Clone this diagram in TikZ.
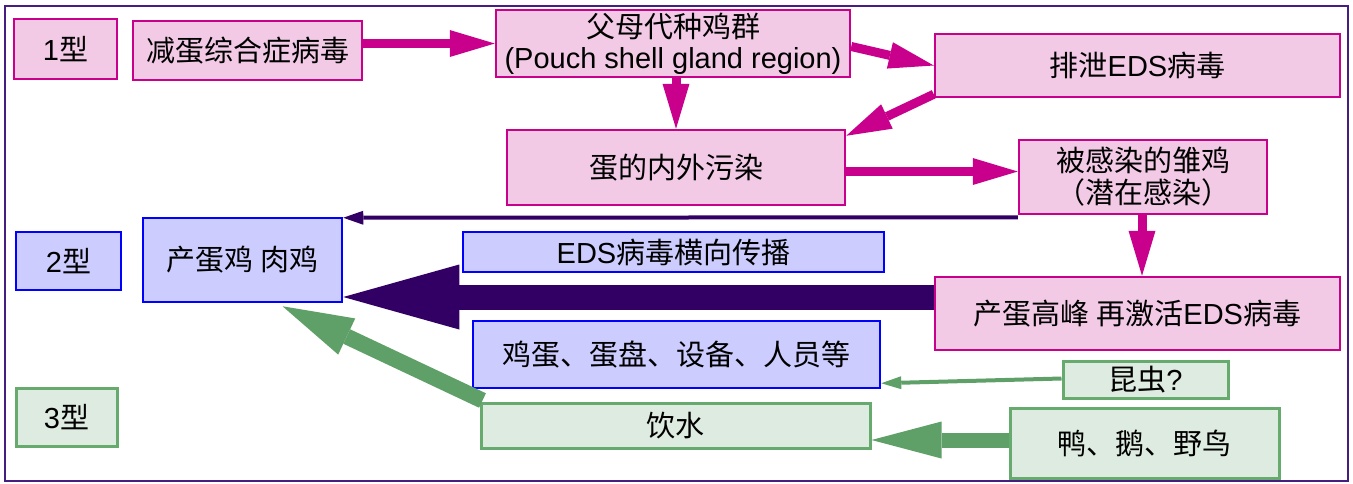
\documentclass[tikz,border=0pt]{standalone}
\usepackage{fontspec}
\setmainfont{Liberation Sans}
\newfontfamily\cjk{Noto Sans CJK SC}
\usetikzlibrary{arrows.meta}
\definecolor{mag}{RGB}{200,0,140}
\definecolor{pinkfill}{RGB}{242,202,230}
\definecolor{bluebd}{RGB}{0,0,255}
\definecolor{bluefill}{RGB}{204,204,255}
\definecolor{greenbd}{RGB}{102,170,110}
\definecolor{greenfill}{RGB}{222,235,224}
\definecolor{greenarr}{RGB}{95,160,104}
\definecolor{darkpurple}{RGB}{50,0,100}
\definecolor{framecol}{RGB}{70,30,130}
\begin{document}
\begin{tikzpicture}[x=1pt,y=-1pt,
  font=\fontsize{29}{31}\selectfont,
  box/.style={line width=2.5pt, inner sep=0pt, align=center},
  pinkbox/.style={box, draw=mag, fill=pinkfill},
  bluebox/.style={box, draw=bluebd, fill=bluefill},
  greenbox/.style={box, draw=greenbd, fill=greenfill, line width=3pt},
  magarr/.style={draw=mag, line width=9pt, -{Triangle[length=45pt,width=27pt,line width=0pt]}},
  thinpurple/.style={draw=darkpurple, line width=4pt, -{Triangle[length=20pt,width=14pt,line width=0pt]}},
  bigpurple/.style={draw=darkpurple, line width=25pt, -{Triangle[length=116pt,width=65pt,line width=0pt]}},
  biggreen/.style={draw=greenarr, line width=16pt, -{Triangle[length=71pt,width=40pt,line width=0pt]}},
  midgreen/.style={draw=greenarr, line width=15pt, -{Triangle[length=70pt,width=37pt,line width=0pt]}},
  thingreen/.style={draw=greenarr, line width=4pt, -{Triangle[length=20pt,width=13pt,line width=0pt]}},
  framebox/.style={draw=framecol, line width=2.5pt}
]
\useasboundingbox (0,0) rectangle (1353,483);
\draw[framebox] (5,6) rectangle (1348,481);

% type labels
\node[pinkbox, minimum width=103pt, minimum height=60pt] (t1) at (65.5,49) {1{\cjk 型}};
\node[bluebox, minimum width=105pt, minimum height=58pt] (t2) at (68.5,261) {2{\cjk 型}};
\node[greenbox, minimum width=101pt, minimum height=58pt] (t3) at (66.5,417) {3{\cjk 型}};

% pink nodes
\node[pinkbox, minimum width=229pt, minimum height=59pt] (a) at (247.5,50.5) {\cjk 减蛋综合症病毒};
\node[pinkbox, minimum width=354pt, minimum height=67pt] (b) at (673,43.5) {{\cjk 父母代种鸡群}\\(Pouch shell gland region)};
\node[pinkbox, minimum width=405pt, minimum height=63pt] (c) at (1137.5,65.5) {{\cjk 排泄}EDS{\cjk 病毒}};
\node[pinkbox, minimum width=338pt, minimum height=75pt] (d) at (676,167.5) {\cjk 蛋的内外污染};
\node[pinkbox, minimum width=248pt, minimum height=74pt, font=\fontsize{29}{32}\selectfont] (e) at (1143,177) {{\cjk 被感染的雏鸡}\\{\cjk （潜在感染）}};
\node[pinkbox, minimum width=405pt, minimum height=73pt] (h) at (1137.5,313.5) {{\cjk 产蛋高峰 再激活}EDS{\cjk 病毒}};

% blue nodes
\node[bluebox, minimum width=199pt, minimum height=84pt] (f) at (242.5,260) {\cjk 产蛋鸡 肉鸡};
\node[bluebox, minimum width=421pt, minimum height=40pt] (g) at (673.5,252) {EDS{\cjk 病毒横向传播}};
\node[bluebox, minimum width=407pt, minimum height=67pt] (i) at (676.5,354.5) {\cjk 鸡蛋、蛋盘、设备、人员等};

% green nodes
\node[greenbox, minimum width=165pt, minimum height=37pt] (j) at (1145.5,379.5) {{\cjk 昆虫}?};
\node[greenbox, minimum width=389pt, minimum height=45pt] (k) at (675.5,425.5) {\cjk 饮水};
\node[greenbox, minimum width=269pt, minimum height=70pt] (l) at (1144.5,443) {\cjk 鸭、鹅、野鸟};

% magenta arrows
\coordinate (p1) at ([yshift=7pt]a.east);
\draw[magarr] (p1) -- (p1 -| b.west);
\draw[magarr] ([yshift=-3pt]b.east) -- (c.west);
\draw[magarr] ([xshift=3pt]b.south) -- (d.north);
\draw[magarr] ([yshift=4pt]c.south west) -- ([yshift=-7pt]d.north east);
\coordinate (p2) at ([yshift=-4pt]d.east);
\draw[magarr] (p2) -- (p2 -| e.west);
\coordinate (p3) at ([xshift=-1pt]e.south);
\draw[magarr] (p3) -- (p3 |- h.north);

% purple arrows
\draw[thinpurple] ([yshift=-2pt]e.south west) -- ([yshift=-1pt]f.north east);
\coordinate (p4) at ([yshift=16.5pt]h.west);
\draw[bigpurple] (p4) -- (p4 -| f.east);

% green arrows
\draw[biggreen] ([xshift=3pt,yshift=1pt]k.north west) -- ([xshift=40pt,yshift=-3pt]f.south);
\coordinate (p5) at ([yshift=3pt]l.west);
\draw[midgreen] (p5) -- (p5 -| k.east);
\draw[thingreen] ([yshift=1pt]j.west) -- ([yshift=6pt]i.south east);
\end{tikzpicture}
\end{document}
